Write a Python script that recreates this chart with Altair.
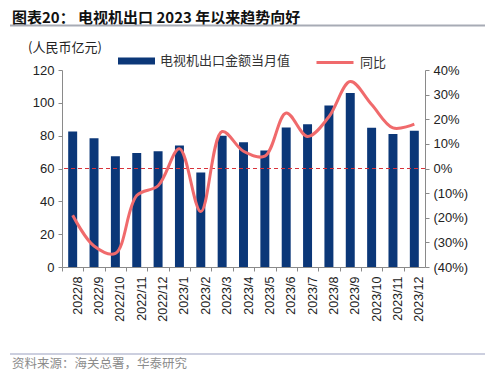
import altair as alt
import pandas as pd

months = ["2022/8", "2022/9", "2022/10", "2022/11", "2022/12", "2023/1", "2023/2",
          "2023/3", "2023/4", "2023/5", "2023/6", "2023/7", "2023/8", "2023/9",
          "2023/10", "2023/11", "2023/12"]
export_value = [82.5, 78.5, 67.5, 69.5, 70.5, 74.0, 57.5, 80.0, 76.0, 71.0,
                85.0, 87.0, 98.3, 106.0, 84.8, 81.0, 83.0]
yoy = [-0.19, -0.315, -0.345, -0.11, -0.07, 0.08, -0.175, 0.15, 0.07, 0.05,
       0.225, 0.13, 0.21, 0.353, 0.26, 0.165, 0.18]

bar_name = "电视机出口金额当月值"
line_name = "同比"
title_text = "图表20：  电视机出口 2023 年以来趋势向好"
unit_text = "(人民币亿元)"
source_text = "资料来源：海关总署，华泰研究"

df = pd.DataFrame({"month": months, "value": export_value, "yoy": yoy,
                   "s1": bar_name, "s2": line_name})
one = pd.DataFrame({"k": [0]})

NUM_FONT = "Liberation Sans"
CJK_FONT = "Noto Sans CJK SC"
BAR_C = "#0b3778"
LINE_C = "#f06a6c"
AX_C = "#8a8a8a"

W, H = 363, 197

x_axis = alt.Axis(labelAngle=-90, labelFont=NUM_FONT, labelFontSize=12.5,
                  labelColor="#222", ticks=True, tickColor=AX_C,
                  tickSize=4, domainColor=AX_C, bandPosition=0,
                  tickOffset=-6.2, labelOffset=10.7, labelPadding=5,
                  labelOverlap=False, labelBound=False)
x_scale = alt.Scale(paddingInner=0.58, paddingOuter=0.29)

right_axis = alt.Axis(orient="right",
                      values=[-0.4, -0.3, -0.2, -0.1, 0, 0.1, 0.2, 0.3, 0.4],
                      labelExpr="datum.value < -0.001 ? '(' + format(-datum.value, '.0%') + ')' : format(abs(datum.value), '.0%')",
                      grid=False, labelFont=NUM_FONT, labelFontSize=13,
                      labelColor="#222", domainColor=AX_C, tickColor=AX_C,
                      tickSize=4, labelPadding=4, labelOverlap=False)
right_scale = alt.Scale(domain=[-0.4, 0.4])

bars = alt.Chart(df).mark_bar().encode(
    x=alt.X("month:N", sort=months, title=None, scale=x_scale, axis=x_axis),
    y=alt.Y("value:Q", title=None,
            scale=alt.Scale(domain=[0, 120]),
            axis=alt.Axis(values=[0, 20, 40, 60, 80, 100, 120], grid=False,
                          labelFont=NUM_FONT, labelFontSize=13, labelColor="#222",
                          domainColor=AX_C, tickColor=AX_C, tickSize=4,
                          labelPadding=4, labelOverlap=False)),
    fill=alt.Fill("s1:N", title=None,
                  scale=alt.Scale(domain=[bar_name], range=[BAR_C]),
                  legend=alt.Legend(orient="none", legendX=56, legendY=-27.5,
                                    symbolType="M-1,-0.19H1V0.19H-1Z",
                                    symbolSize=1369, symbolStrokeWidth=0,
                                    labelFont=CJK_FONT, labelFontSize=13,
                                    labelColor="#333", labelOffset=5)),
)

line = alt.Chart(df).mark_line(strokeWidth=3, interpolate="catmull-rom").encode(
    x=alt.X("month:N", sort=months, title=None, scale=x_scale, axis=x_axis),
    y=alt.Y("yoy:Q", title=None, scale=right_scale, axis=right_axis),
    stroke=alt.Stroke("s2:N", title=None,
                      scale=alt.Scale(domain=[line_name], range=[LINE_C]),
                      legend=alt.Legend(orient="none", legendX=253, legendY=-27.5,
                                        symbolType="stroke", symbolSize=1369,
                                        symbolStrokeWidth=3,
                                        labelFont=CJK_FONT, labelFontSize=13,
                                        labelColor="#333", labelOffset=5)),
)

zero_rule = alt.Chart(one).mark_rule(color="#d8323a", strokeWidth=1,
                                     strokeDash=[4, 3]).encode(
    y=alt.Y(datum=0, scale=right_scale, axis=right_axis)
)

right_layer = alt.layer(zero_rule, line)

# annotations (title, unit, source)
title_mark = alt.Chart(one).mark_text(text=title_text, font=CJK_FONT, fontSize=15,
                                      fontWeight="bold", align="left",
                                      baseline="middle", color="#111").encode(
    x=alt.value(-50), y=alt.value(-52.5))
top_line = alt.Chart(one).mark_rule(color="#a7abb5", strokeWidth=2).encode(
    x=alt.value(-52), x2=alt.value(423), y=alt.value(-44.5))
unit_mark = alt.Chart(one).mark_text(text=unit_text, font=CJK_FONT, fontSize=13,
                                     align="left", baseline="middle",
                                     color="#222").encode(
    x=alt.value(-34), y=alt.value(-22))
bottom_line = alt.Chart(one).mark_rule(color="#9aa0bf", strokeWidth=1.2).encode(
    x=alt.value(-52), x2=alt.value(423), y=alt.value(284))
source_mark = alt.Chart(one).mark_text(text=source_text, font=CJK_FONT, fontSize=12.5,
                                       align="left", baseline="middle",
                                       color="#8c8c8c").encode(
    x=alt.value(-50), y=alt.value(294))

annot = alt.layer(title_mark, top_line, unit_mark, bottom_line, source_mark)

chart = alt.layer(bars, right_layer, annot).resolve_scale(
    y="independent"
).properties(
    width=W, height=H,
    autosize=alt.AutoSizeParams(type="none"),
    padding={"left": 54, "top": 62, "right": 60, "bottom": 104},
).configure_view(stroke=None).configure_axis(labelOverlap=False)

chart.save("out.html", embed_options={"renderer": "svg", "actions": False})
